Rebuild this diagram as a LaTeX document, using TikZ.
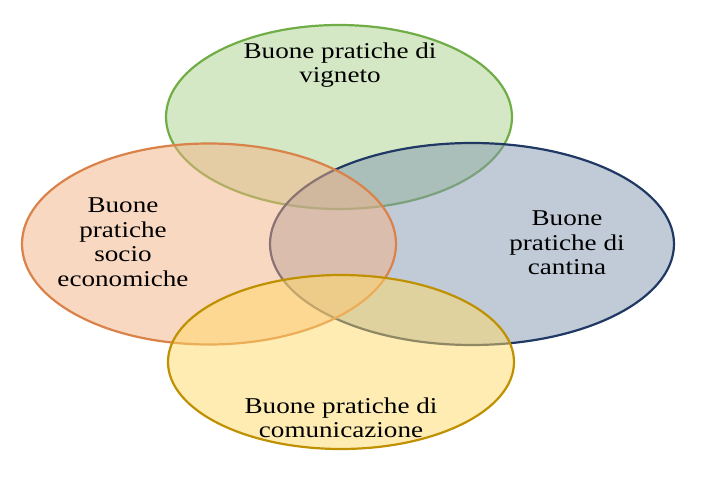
\documentclass[tikz,border=0pt]{standalone}
\usepackage{fontspec}
\setmainfont[FakeStretch=1.2]{Liberation Serif}
\usetikzlibrary{shapes.geometric}
\definecolor{gfill}{HTML}{A9D18E}
\definecolor{gline}{HTML}{70AD47}
\definecolor{bfill}{HTML}{8497B0}
\definecolor{bline}{HTML}{1F3864}
\definecolor{ofill}{HTML}{F4B183}
\definecolor{oline}{HTML}{D9824A}
\definecolor{yfill}{HTML}{FFD966}
\definecolor{yline}{HTML}{BF9000}
\tikzset{
  venn/.style={ellipse, inner sep=0pt, line width=2.2pt, fill opacity=0.5},
  lbl/.style={align=center, font=\fontsize{22.6}{24.5}\selectfont, text=black, inner sep=0pt}
}
\begin{document}
\begin{tikzpicture}[x=1pt,y=-1pt]
\useasboundingbox (0,0) rectangle (709,478);
\node[venn, draw=gline, fill=gfill, minimum width=346pt, minimum height=184pt] (green) at (339,117) {};
\node[venn, draw=bline, fill=bfill, minimum width=404pt, minimum height=202pt] (blue) at (472,244) {};
\node[venn, draw=oline, fill=ofill, minimum width=374pt, minimum height=201pt] (orange) at (209,244) {};
\node[venn, draw=yline, fill=yfill, minimum width=346pt, minimum height=174pt] (yellow) at (341,362) {};
\node[lbl] (tg) at (340,65) {Buone pratiche di\\vigneto};
\node[lbl] (to) at (123,242) {Buone\\pratiche\\socio\\economiche};
\node[lbl] (tb) at (567,243) {Buone\\pratiche di\\cantina};
\node[lbl] (ty) at (341,418) {Buone pratiche di\\comunicazione};
\end{tikzpicture}
\end{document}
